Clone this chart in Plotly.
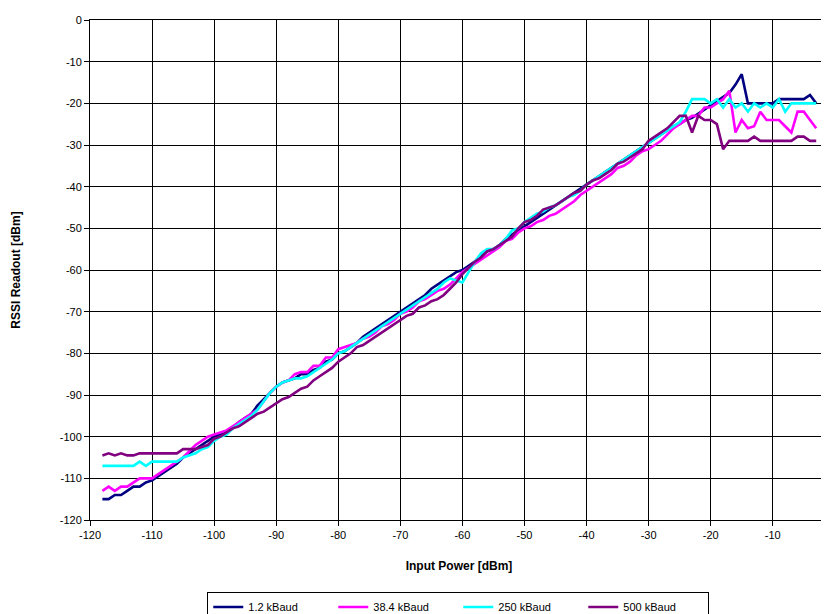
import plotly.graph_objects as go

input_power = [
    -118, -117, -116, -115, -114, -113, -112, -111, -110, -109,
    -108, -107, -106, -105, -104, -103, -102, -101, -100, -99,
    -98, -97, -96, -95, -94, -93, -92, -91, -90, -89,
    -88, -87, -86, -85, -84, -83, -82, -81, -80, -79,
    -78, -77, -76, -75, -74, -73, -72, -71, -70, -69,
    -68, -67, -66, -65, -64, -63, -62, -61, -60, -59,
    -58, -57, -56, -55, -54, -53, -52, -51, -50, -49,
    -48, -47, -46, -45, -44, -43, -42, -41, -40, -39,
    -38, -37, -36, -35, -34, -33, -32, -31, -30, -29,
    -28, -27, -26, -25, -24, -23, -22, -21, -20, -19,
    -18, -17, -16, -15, -14, -13, -12, -11, -10, -9,
    -8, -7, -6, -5, -4, -3,
]

rssi_1_2k = [
    -115, -115, -114, -114, -113, -112, -112, -111, -110.5, -109.5,
    -108.5, -107.5, -106.5, -105, -104, -103, -102, -101, -100, -99.5,
    -99, -98, -96.5, -95.5, -94.5, -92.5, -91, -89.5, -88, -87,
    -86.5, -86, -85, -85, -84, -83.5, -82, -81.5, -80, -79.5,
    -78.5, -77.5, -76, -75, -74, -73, -72, -71, -70, -69,
    -68, -67, -66, -64.5, -63.5, -62.5, -61.5, -60.5, -60, -59,
    -58, -56.5, -55.5, -55, -54, -52.5, -51.5, -50.5, -49.5, -48.5,
    -47.5, -46.5, -45.5, -44.5, -43.5, -42.5, -41.5, -40.5, -39.5, -38.5,
    -37.5, -36.5, -35.5, -34.5, -33.5, -32.5, -31.5, -30.5, -29.5, -28.5,
    -27.5, -26.5, -25.5, -25, -24, -23.5, -22.5, -21.5, -20.5, -19.5,
    -18.5, -17.5, -15.5, -13, -20, -20, -20, -20, -20, -19,
    -19, -19, -19, -19, -18, -20,
]

rssi_38_4k = [
    -113, -112, -113, -112, -112, -111, -110, -110, -110, -109,
    -108, -107, -106, -105, -103.5, -102, -101, -100, -99.5, -99,
    -98.5, -97.5, -96.5, -95.5, -94.5, -93.5, -91.5, -89.5, -88, -87,
    -86.5, -85, -84.5, -84.5, -83, -83, -81, -81, -79, -78.5,
    -78, -77.5, -76.5, -76, -75, -73.5, -73, -72, -70.5, -70,
    -69, -67.5, -67, -66, -65, -64.5, -63.5, -62, -60.5, -59.5,
    -58.5, -57.5, -56.5, -55.5, -54.5, -53, -52.5, -51, -50, -49.5,
    -48.5, -48, -47, -46.5, -45.5, -44.5, -43.5, -42, -41, -40,
    -39, -38, -37, -35.5, -35, -34, -32.5, -31.5, -31, -30,
    -29, -27.5, -26, -25, -24, -23, -23, -21, -21, -20,
    -19, -17, -27, -24, -26, -25.5, -22, -24, -24, -24,
    -25.5, -27, -22, -22, -24, -26,
]

rssi_250k = [
    -107, -107, -107, -107, -107, -107, -106, -107, -106, -106,
    -106, -106, -106, -105, -104.5, -104, -103, -102.5, -101, -100,
    -99.5, -98, -97, -96, -95, -93.5, -91.5, -89.5, -88, -87,
    -86.5, -86, -86, -85.5, -84.5, -83.5, -82.5, -81.5, -80, -79.5,
    -78.5, -77.5, -76.5, -75.5, -74.5, -73.5, -72.5, -71.5, -70.5, -69.5,
    -68.5, -67.5, -66.5, -65.5, -64.5, -63, -62, -62.5, -63, -60.5,
    -58, -56, -55, -55, -54, -52.5, -50.5, -50, -48.5, -47.5,
    -46.5, -46, -45, -44.5, -43.5, -42.5, -42, -41, -39.5, -38.5,
    -37.5, -36.5, -35.5, -34.5, -33.5, -32.5, -31.5, -30.5, -29.5, -28.5,
    -27.5, -26.5, -25.5, -24.5, -22, -19, -19, -19, -20, -19,
    -21, -19, -21, -20, -22, -20, -21, -20, -21, -19,
    -22, -20, -20, -20, -20, -20,
]

rssi_500k = [
    -104.5, -104, -104.5, -104, -104.5, -104.5, -104, -104, -104, -104,
    -104, -104, -104, -103, -103, -103, -102.5, -102, -100.5, -100,
    -99, -98, -97.5, -96.5, -95.5, -94.5, -94, -93, -92, -91,
    -90.5, -89.5, -88.5, -88, -86.5, -85.5, -84.5, -83.5, -82, -81,
    -80, -78.5, -78, -77, -76, -75, -74, -73, -72, -71,
    -70.5, -69, -68.5, -67.5, -67, -66, -64.5, -63, -61, -59.5,
    -58, -57, -55.5, -55, -54, -53, -52, -50, -48.5, -48,
    -47, -45.5, -45, -44.5, -43.5, -42.5, -41.5, -41, -39.5, -38.5,
    -38, -37, -36, -34.5, -34, -33, -32, -31, -29, -28,
    -27, -26, -24.5, -23, -23, -27, -23, -24, -24, -25,
    -31, -29, -29, -29, -29, -28, -29, -29, -29, -29,
    -29, -29, -28, -28, -29, -29,
]

series_names = ["1.2 kBaud", "38.4 kBaud", "250 kBaud", "500 kBaud"]
series_values = [rssi_1_2k, rssi_38_4k, rssi_250k, rssi_500k]
series_colors = ["#000080", "#FF00FF", "#00FFFF", "#800080"]

x_ticks = [-120, -110, -100, -90, -80, -70, -60, -50, -40, -30, -20, -10]
y_ticks = [0, -10, -20, -30, -40, -50, -60, -70, -80, -90, -100, -110, -120]

for v in series_values:
    assert len(v) == len(input_power)

FONT = "Liberation Sans, Arial, sans-serif"

fig = go.Figure()
for name, vals, col in zip(series_names, series_values, series_colors):
    fig.add_trace(go.Scatter(
        x=input_power, y=vals, mode="lines", name=name,
        line=dict(color=col, width=2.6),
    ))

fig.update_layout(
    width=821, height=606,
    margin=dict(l=82, r=1, t=12, b=94, autoexpand=False),
    paper_bgcolor="white", plot_bgcolor="white",
    font=dict(family=FONT, size=11, color="black"),
    showlegend=True,
    legend=dict(
        orientation="h", x=0.499, xanchor="center", y=-0.143, yanchor="top",
        bordercolor="black", borderwidth=1, bgcolor="white",
        font=dict(family=FONT, size=11, color="black"),
        itemwidth=30, entrywidth=80, entrywidthmode="pixels",
        tracegroupgap=0,
    ),
)

fig.update_xaxes(
    range=[-120, -1.1], tickvals=x_ticks, ticktext=[str(t) for t in x_ticks],
    showgrid=True, gridcolor="black", gridwidth=1,
    showline=True, linecolor="black", linewidth=1, mirror=True,
    ticks="outside", ticklen=5, tickcolor="black",
    zeroline=False, automargin=False,
    title=dict(text="<b>Input Power [dBm]</b>", font=dict(family=FONT, size=12), standoff=21),
)
fig.update_yaxes(
    range=[-120, 0], tickvals=y_ticks, ticktext=[str(t) for t in y_ticks],
    showgrid=True, gridcolor="black", gridwidth=1,
    showline=True, linecolor="black", linewidth=1, mirror=False,
    ticks="outside", ticklen=5, tickcolor="black",
    zeroline=False, automargin=False,
    title=dict(text="<b>RSSI Readout [dBm]</b>", font=dict(family=FONT, size=12), standoff=36),
)

fig.write_html("out.html")
